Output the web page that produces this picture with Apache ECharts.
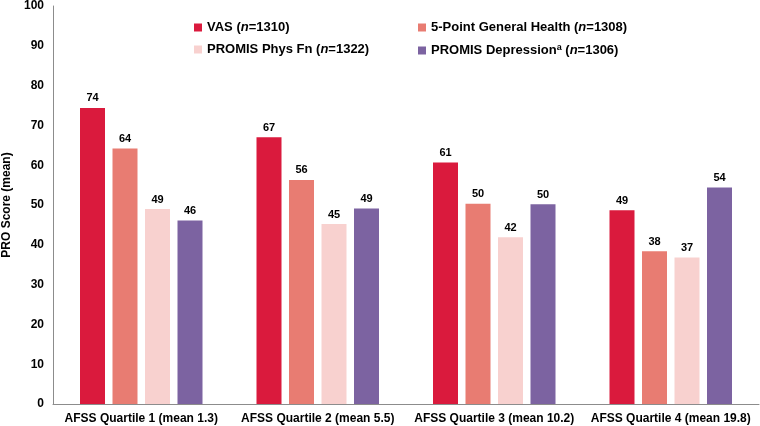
<!DOCTYPE html>
<html>
<head>
<meta charset="utf-8">
<script src="https://cdn.jsdelivr.net/npm/echarts@6/dist/echarts.min.js"></script>
<style>html,body{margin:0;padding:0;background:#fff;}#c{width:760px;height:426px;}</style>
</head>
<body>
<div id="c"></div>
<script>
const categories = ['AFSS Quartile 1 (mean 1.3)', 'AFSS Quartile 2 (mean 5.5)', 'AFSS Quartile 3 (mean 10.2)', 'AFSS Quartile 4 (mean 19.8)'];
const seriesNames = ['VAS', '5-Point General Health', 'PROMIS Phys Fn', 'PROMIS Depression'];
const seriesN = ['1310', '1308', '1322', '1306'];
const vas = [74.4, 67.0, 60.7, 48.7];
const generalHealth = [64.2, 56.3, 50.3, 38.4];
const physFn = [49.0, 45.2, 41.9, 36.8];
const depression = [46.1, 49.1, 50.2, 54.4];
const yTicks = [0, 10, 20, 30, 40, 50, 60, 70, 80, 90, 100];

const colors = ['#DA1A3D', '#E87C72', '#F8D1CF', '#7C63A1'];
const values = [vas, generalHealth, physFn, depression];
const FONT = 'Liberation Sans, Arial, sans-serif';

const chart = echarts.init(document.getElementById('c'));
const legendPos = [[189, 16], [413, 16], [189, 38], [413, 38]];
const legends = seriesNames.map((name, i) => ({
  data: [name],
  left: legendPos[i][0], top: legendPos[i][1],
  itemWidth: 8, itemHeight: 8, icon: 'rect',
  selectedMode: false,
  formatter: function (n) {
    if (i === 3) return '{b|' + n + '}{s|a}{b| (}{i|n}{b|=' + seriesN[i] + ')}';
    return '{b|' + n + ' (}{i|n}{b|=' + seriesN[i] + ')}';
  },
  textStyle: {
    rich: {
      b: { fontFamily: FONT, fontWeight: 'bold', fontSize: 13, color: '#000', lineHeight: 15 },
      i: { fontFamily: FONT, fontWeight: 'bold', fontStyle: 'italic', fontSize: 13, color: '#000', lineHeight: 15 },
      s: { fontFamily: FONT, fontWeight: 'bold', fontSize: 9, color: '#000', verticalAlign: 'top', lineHeight: 11 }
    }
  }
}));

chart.setOption({
  animation: false,
  color: colors,
  legend: legends,
  grid: { left: 53, right: 1, top: 6, bottom: 22, containLabel: false, outerBoundsMode: 'none' },
  xAxis: {
    type: 'category',
    data: categories,
    axisLine: { lineStyle: { color: '#8c8c8c', width: 1 } },
    axisTick: { show: false },
    axisLabel: { interval: 0, fontFamily: FONT, fontWeight: 'bold', fontSize: 12, color: '#000', margin: 9 }
  },
  yAxis: {
    type: 'value',
    min: yTicks[0], max: yTicks[yTicks.length - 1], interval: 10,
    name: 'PRO Score (mean)',
    nameLocation: 'middle',
    nameGap: 38,
    nameTextStyle: { fontFamily: FONT, fontWeight: 'bold', fontSize: 12, color: '#000' },
    axisLine: { show: true, lineStyle: { color: '#8c8c8c', width: 1 } },
    axisTick: { show: false },
    splitLine: { show: false },
    axisLabel: { fontFamily: FONT, fontWeight: 'bold', fontSize: 12, color: '#000', margin: 9 }
  },
  series: seriesNames.map((name, i) => ({
    name: name,
    type: 'bar',
    data: values[i],
    barWidth: 25,
    barGap: '30%',
    itemStyle: { color: colors[i] },
    label: {
      show: true, position: 'top', distance: 4,
      fontFamily: FONT, fontWeight: 'bold', fontSize: 11, color: '#000',
      formatter: p => Math.round(p.value)
    }
  }))
});
</script>
</body>
</html>
